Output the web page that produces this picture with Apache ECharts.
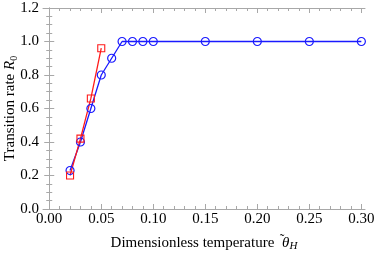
<!DOCTYPE html>
<html>
<head>
<meta charset="utf-8">
<script src="https://cdn.jsdelivr.net/npm/echarts@6/dist/echarts.min.js"></script>
<style>html,body{margin:0;padding:0;background:#fff}#c{width:374px;height:253px}</style>
</head>
<body>
<div id="c"></div>
<script>
var blueX = [0.02, 0.03, 0.04, 0.05, 0.06, 0.07, 0.08, 0.09, 0.10, 0.15, 0.20, 0.25, 0.30];
var blueY = [0.23, 0.40, 0.60, 0.80, 0.90, 1.00, 1.00, 1.00, 1.00, 1.00, 1.00, 1.00, 1.00];
var redX = [0.02, 0.03, 0.04, 0.05];
var redY = [0.20, 0.42, 0.66, 0.96];
var xMajorTicks = [0, 0.05, 0.10, 0.15, 0.20, 0.25, 0.30];
var xMinorTicks = [0.01,0.02,0.03,0.04,0.06,0.07,0.08,0.09,0.11,0.12,0.13,0.14,0.16,0.17,0.18,0.19,0.21,0.22,0.23,0.24,0.26,0.27,0.28,0.29];

var gray = '#a8a8a8';
var font = 'Liberation Serif';
function pairs(xs, ys){ return xs.map(function(x,i){return [x, ys[i]];}); }

var chart = echarts.init(document.getElementById('c'), null, {renderer:'canvas'});
var xMin = -0.006, xMax = 0.3035;
function xAx(pos, ticks, len, line, label, name){
  return {
    type:'value', position:pos, min:xMin, max:xMax,
    axisLine:{show:line, lineStyle:{color:gray, width:1}},
    axisTick:{show:true, inside:true, length:len, customValues:ticks, lineStyle:{color:gray}},
    axisLabel:{show:label, customValues:ticks, color:'#000', fontFamily:font, fontSize:15, margin:3,
      formatter:function(v){return v.toFixed(2);}},
    splitLine:{show:false},
    name: name || '',
    nameLocation:'middle', nameGap:25, nameMoveOverlap:false,
    nameTextStyle:{color:'#000', fontFamily:font, fontSize:15,
      rich:{
        a:{fontFamily:font, fontSize:14, color:'#000', width:0, align:'left', padding:[0,0,5,4], verticalAlign:'bottom', lineHeight:14},
        t:{fontFamily:font, fontSize:15, color:'#000', fontStyle:'italic', lineHeight:18},
        s:{fontFamily:font, fontSize:11, color:'#000', fontStyle:'italic', verticalAlign:'bottom', lineHeight:18}
      }}
  };
}
function yAx(pos, label, name){
  return {
    type:'value', position:pos, min:0, max:1.2, interval:0.2,
    axisLine:{show:true, lineStyle:{color:gray, width:1}},
    axisTick:{show:true, inside:true, length:5, lineStyle:{color:gray}},
    minorTick:{show:true, splitNumber:4, length:3, lineStyle:{color:gray}},
    axisLabel:{show:label, color:'#000', fontFamily:font, fontSize:15, margin:4,
      formatter:function(v){return v.toFixed(1);}},
    splitLine:{show:false},
    name: name || '',
    nameLocation:'middle', nameGap:24, nameRotate:90, nameMoveOverlap:false,
    nameTextStyle:{color:'#000', fontFamily:font, fontSize:15,
      rich:{
        i:{fontFamily:font, fontSize:15, color:'#000', fontStyle:'italic', lineHeight:18},
        s:{fontFamily:font, fontSize:10, color:'#000', verticalAlign:'bottom', lineHeight:18}
      }}
  };
}

chart.setOption({
  animation:false,
  grid:{left:43, top:8, right:9, bottom:44, containLabel:false, outerBoundsMode:'none'},
  xAxis:[
    xAx('bottom', xMajorTicks, 5, true, true, 'Dimensionless temperature {a|˜}{t|θ}{s|H}'),
    xAx('bottom', xMinorTicks, 3, false, false),
    xAx('top', xMajorTicks, 5, true, false),
    xAx('top', xMinorTicks, 3, false, false)
  ],
  yAxis:[
    yAx('left', true, 'Transition rate {i|R}{s|0}'),
    yAx('right', false)
  ],
  series:[
    {type:'line', data:pairs(blueX, blueY), xAxisIndex:0, yAxisIndex:0,
      symbol:'circle', symbolSize:8, showAllSymbol:true,
      lineStyle:{color:'#1a1aff', width:1.3},
      itemStyle:{color:'rgba(255,255,255,0)', borderColor:'#1a1aff', borderWidth:1.2}},
    {type:'line', data:pairs(redX, redY), xAxisIndex:0, yAxisIndex:0,
      symbol:'rect', symbolSize:7, showAllSymbol:true,
      lineStyle:{color:'#ff1a1a', width:1.3},
      itemStyle:{color:'rgba(255,255,255,0)', borderColor:'#ff1a1a', borderWidth:1.1}}
  ]
});
</script>
</body>
</html>
